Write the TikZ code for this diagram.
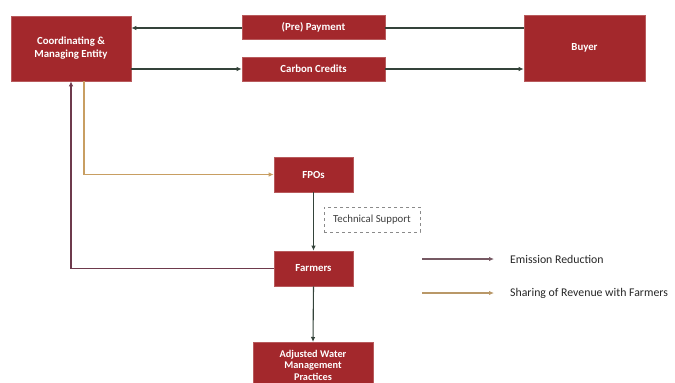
\documentclass[tikz,border=0pt]{standalone}
\usepackage{fontspec}
\setmainfont{Carlito}
\usetikzlibrary{arrows.meta,positioning}

\definecolor{boxred}{HTML}{A3282C}
\definecolor{boxedge}{HTML}{B85A5C}
\definecolor{flowdark}{HTML}{34433A}
\definecolor{emission}{HTML}{6E3A4C}
\definecolor{revenue}{HTML}{C89E62}
\definecolor{dashgray}{HTML}{8A8A8A}

\tikzset{
  redbox/.style={draw=boxedge, line width=0.6pt, fill=boxred, text=white,
    font=\fontsize{10.8}{13}\selectfont\bfseries, align=center,
    inner sep=0pt, minimum width=#1},
  redbox/.default=120pt,
  supportbox/.style={draw=dashgray, dashed, line width=0.6pt, fill=white,
    font=\fontsize{10.8}{13}\selectfont, text=black!75, inner sep=0pt,
    minimum width=96pt, minimum height=25pt},
  tip/.style={-{Latex[length=5pt,width=4.5pt]}},
  darkflow/.style={tip, draw=flowdark, line width=1.1pt},
  emissionflow/.style={tip, draw=emission, line width=1.1pt},
  revenueflow/.style={tip, draw=revenue, line width=1.1pt},
  legendtext/.style={anchor=west, inner sep=0pt,
    font=\fontsize{11.8}{14}\selectfont, text=black!85}
}

\begin{document}
\begin{tikzpicture}[x=1pt,y=-1pt]
  \useasboundingbox (0,0) rectangle (675,383);
  \clip (0,0) rectangle (675,383);

  % boxes
  \node[redbox=120pt, minimum height=65pt] (coord) at (71,48.5)
    {Coordinating \&\\Managing Entity};
  \node[redbox=143pt, minimum height=24pt] (payment) at (313.5,27) {(Pre) Payment};
  \node[redbox=143pt, minimum height=24pt] (credits) at (313.5,69) {Carbon Credits};
  \node[redbox=121pt, minimum height=66pt] (buyer) at (584.5,48) {Buyer};
  \node[redbox=79pt, minimum height=35pt] (fpo) at (313.5,174.5) {FPOs};
  \node[supportbox] (tech) at (372,219.5) {Technical Support};
  \node[redbox=79pt, minimum height=35pt] (farmers) at (313.5,268.5) {Farmers};
  \node[redbox=120pt, minimum height=46pt, anchor=north,
        font=\fontsize{10.3}{11.6}\selectfont\bfseries] (awm) at (313,342)
    {Adjusted Water\\Management\\Practices};

  % payment and credit flows between entity and buyer
  \draw[flowdark, line width=1.1pt] (buyer.west |- 0,28) -- (payment.east |- 0,28);
  \draw[darkflow] (payment.west |- 0,28) -- (coord.east |- 0,28);
  \draw[darkflow] (coord.east |- 0,69) -- (credits.west |- 0,69);
  \draw[darkflow] (credits.east |- 0,69) -- (buyer.west |- 0,69);

  % field level flows
  \draw[darkflow] (fpo.south) -- (farmers.north);
  \draw[darkflow] (farmers.south) -- (awm.north);
  \draw[emissionflow] (farmers.west) -| (coord.south);
  \draw[revenueflow] ([xshift=13pt]coord.south) |- (fpo.west);

  % legend
  \coordinate (lgA1) at (422,259);
  \coordinate (lgA2) at (494,259);
  \coordinate (lgB1) at (422,293);
  \coordinate (lgB2) at (494,293);
  \draw[emissionflow, draw=emission!55!gray] (lgA1) -- (lgA2);
  \draw[revenueflow, draw=revenue!80!gray] (lgB1) -- (lgB2);
  \node[legendtext] (lgA) at (510,259) {Emission Reduction};
  \node[legendtext] (lgB) at (510,293) {Sharing of Revenue with Farmers};
\end{tikzpicture}
\end{document}
